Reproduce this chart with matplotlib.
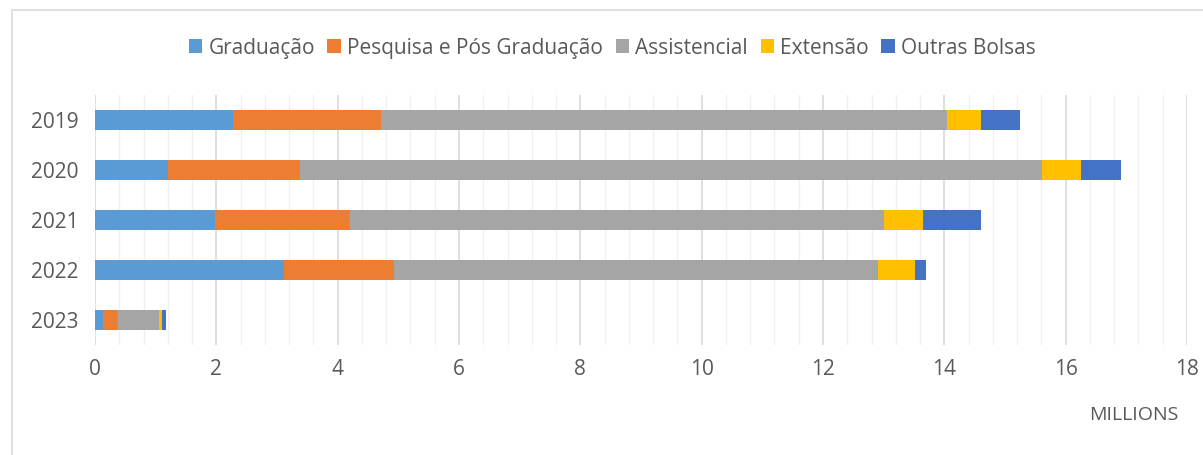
import matplotlib.pyplot as plt
from matplotlib.patches import Rectangle
from matplotlib.ticker import MultipleLocator

#Data (millions)
years = ['2019', '2020', '2021', '2022', '2023']
series = ['Graduação', 'Pesquisa e Pós Graduação', 'Assistencial', 'Extensão', 'Outras Bolsas']
graduacao = [2.28, 1.20, 1.98, 3.12, 0.13]
pesquisa = [2.43, 2.18, 2.23, 1.80, 0.25]
assistencial = [9.33, 12.23, 8.79, 7.98, 0.67]
extensao = [0.57, 0.64, 0.64, 0.62, 0.05]
outras = [0.64, 0.66, 0.97, 0.18, 0.07]
colors = ['#5B9BD5', '#ED7D31', '#A5A5A5', '#FFC000', '#4472C4']

plt.rcParams['font.family'] = ['Open Sans', 'DejaVu Sans']
fig = plt.figure(figsize=(12.03, 4.55), dpi=100)
ax = fig.add_axes([0.079, 0.242, 0.9077, 0.549])

#Stack the bars
left = [0] * len(years)
pos = list(range(len(years)))[::-1]
for name, vals, c in zip(series, [graduacao, pesquisa, assistencial, extensao, outras], colors):
    ax.barh(pos, vals, left=left, height=0.4, color=c, label=name, zorder=3)
    left = [l + v for l, v in zip(left, vals)]

ax.set_yticks(pos)
ax.set_yticklabels(years)
ax.set_ylim(-0.5, 4.5)
ax.set_xlim(0, 18)
ax.xaxis.set_major_locator(MultipleLocator(2))
ax.xaxis.set_minor_locator(MultipleLocator(0.4))
ax.grid(axis='x', which='major', color='#D9D9D9', linewidth=1.2, zorder=0)
ax.grid(axis='x', which='minor', color='#F0F0F0', linewidth=1.0, zorder=0)
for s in ax.spines.values():
    s.set_visible(False)
ax.tick_params(axis='both', which='both', length=0, labelsize=15, colors='#595959')
ax.tick_params(axis='x', pad=10)
ax.tick_params(axis='y', pad=12)

fig.text(1178 / 1203, 1 - 415 / 455, 'MILLIONS', ha='right', va='center', fontsize=14, color='#595959')

fig.legend(loc='center', bbox_to_anchor=(0.509, 0.894), ncol=5, frameon=False,
           fontsize=15, handlelength=0.65, handleheight=0.65, handletextpad=0.3,
           columnspacing=0.6, labelcolor='#595959')

#Chart border
fig.patches.append(Rectangle((12 / 1203, -0.1), 1.1, 1.1 - 10 / 455, transform=fig.transFigure,
                             fill=False, edgecolor='#D9D9D9', linewidth=1.2))

fig.savefig('out.png', dpi=100)
